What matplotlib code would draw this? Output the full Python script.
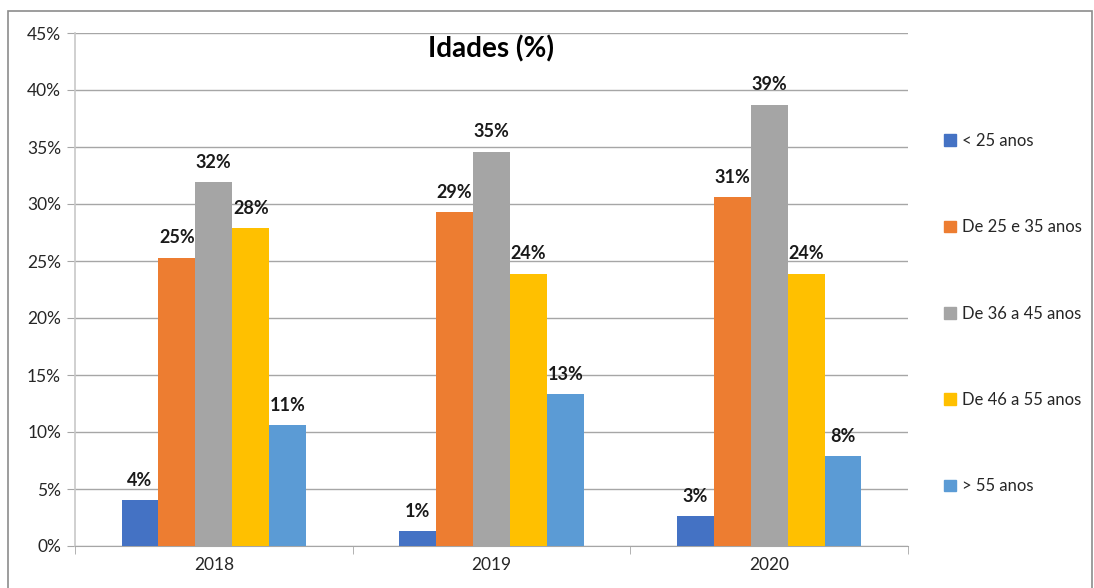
import matplotlib.pyplot as plt
import numpy as np
from matplotlib.patches import Rectangle

plt.rcParams['font.family'] = ['Lato', 'DejaVu Sans']

years = ["2018", "2019", "2020"]
series_names = ["< 25 anos", "De 25 e 35 anos", "De 36 a 45 anos", "De 46 a 55 anos", "> 55 anos"]
under_25 = [4.0, 1.3, 2.6]
from_25_35 = [25.3, 29.3, 30.6]
from_36_45 = [31.9, 34.6, 38.7]
from_46_55 = [27.9, 23.9, 23.9]
over_55 = [10.6, 13.3, 7.9]
labels = [["4%", "1%", "3%"], ["25%", "29%", "31%"], ["32%", "35%", "39%"],
          ["28%", "24%", "24%"], ["11%", "13%", "8%"]]
colors = ["#4472C4", "#ED7D31", "#A5A5A5", "#FFC000", "#5B9BD5"]

data = [under_25, from_25_35, from_36_45, from_46_55, over_55]

fig = plt.figure(figsize=(10.94, 5.88), dpi=100)
ax = fig.add_axes([75 / 1094, 1 - 546 / 588, (908 - 75) / 1094, (546 - 33) / 588])

# outer chart border
fig.patches.append(Rectangle((8 / 1094, -0.01), 1084 / 1094, 1 - 11 / 588 + 0.01,
                             transform=fig.transFigure, fill=False,
                             edgecolor="#8c8c8c", linewidth=1.2))

x = np.arange(len(years))
w = 0.133
for i, (vals, c) in enumerate(zip(data, colors)):
    pos = x + (i - 2) * w
    ax.bar(pos, vals, width=w, color=c, label=series_names[i], zorder=3)
    for p, v, t in zip(pos, vals, labels[i]):
        ax.text(p, v + 1.0, t, ha="center", va="bottom", fontsize=13,
                fontweight="bold", color="#1a1a1a")

ax.set_xlim(-0.5, 2.5)
ax.set_ylim(0, 45)
ax.set_yticks(np.arange(0, 46, 5))
ax.set_yticklabels([f"{v}%" for v in range(0, 46, 5)], fontsize=12.5, color="#262626")
ax.set_xticks(x)
ax.set_xticklabels(years, fontsize=12.5, color="#262626")
ax.set_xticks([-0.5, 0.5, 1.5, 2.5], minor=True)
ax.tick_params(axis="x", which="major", length=0, pad=8)
ax.tick_params(axis="x", which="minor", length=6, color="#a6a6a6")
ax.tick_params(axis="y", length=6, color="#a6a6a6", pad=4)
ax.grid(axis="y", color="#a6a6a6", linewidth=1, zorder=0)
for s in ["top", "right"]:
    ax.spines[s].set_visible(False)
ax.spines["left"].set_color("#c8c8c8")
ax.spines["bottom"].set_color("#a6a6a6")
ax.spines["left"].set_linewidth(1.2)

ax.text(0.5, 0.995, "Idades (%)", transform=ax.transAxes, ha="center", va="top",
        fontsize=20, fontweight="bold", color="#000000")

handles = [Rectangle((0, 0), 1, 1, color=c) for c in colors]
fig.legend(handles, series_names, loc="upper left",
           bbox_to_anchor=(929 / 1094, 1 - 118 / 588), frameon=False,
           fontsize=12, handlelength=0.7, handleheight=0.7, handletextpad=0.4,
           labelspacing=4.22, labelcolor="#262626")

fig.savefig("out.png", dpi=100)
